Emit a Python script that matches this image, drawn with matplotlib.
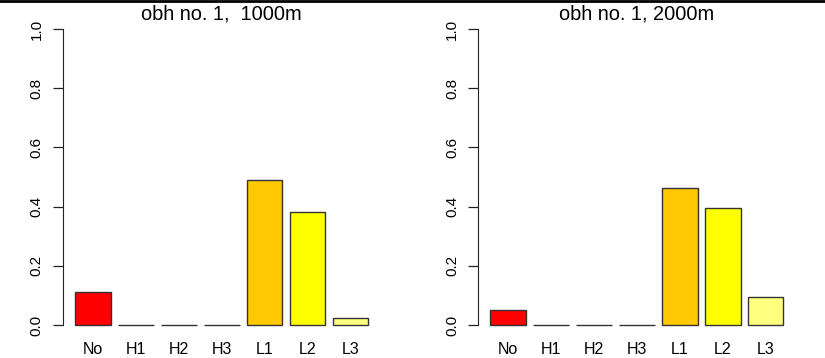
import matplotlib
matplotlib.use("Agg")
import matplotlib.pyplot as plt
import numpy as np

categories = ["No", "H1", "H2", "H3", "L1", "L2", "L3"]
values_1000 = [0.111, 0.0, 0.0, 0.0, 0.491, 0.381, 0.024]
values_2000 = [0.051, 0.0, 0.0, 0.0, 0.462, 0.396, 0.096]
bar_colors = ["#FF0000", "#FF8000", "#FFA000", "#FFB000", "#FFC800", "#FFFF00", "#FFFF80"]
titles = ["obh no. 1,  1000m", "obh no. 1, 2000m"]
yticks = [0.0, 0.2, 0.4, 0.6, 0.8, 1.0]

plt.rcParams['font.family'] = ['Liberation Sans', 'DejaVu Sans']

W, H = 825, 358
fig = plt.figure(figsize=(W / 100, H / 100), dpi=100)

# R barplot geometry: width 1, space 0.2
n = len(categories)
lefts = 0.2 + np.arange(n) * 1.2
centers = lefts + 0.5
xmin, xmax = 0.2, 0.2 + n * 1.2 - 0.2
ext = 0.04 * (xmax - xmin)

panel_left_px = [63.3, 478.5]
panel_width_px = 316.7
top_px, bottom_px = 17.2, 336.8

for i, (vals, title) in enumerate(zip([values_1000, values_2000], titles)):
    ax = fig.add_axes([panel_left_px[i] / W, (H - bottom_px) / H,
                       panel_width_px / W, (bottom_px - top_px) / H])
    ax.bar(centers, vals, width=1.0, color=bar_colors, edgecolor="#333333",
           linewidth=1.0)
    ax.set_xlim(xmin - ext, xmax + ext)
    ax.set_ylim(-0.04, 1.04)
    for s in ["top", "right", "bottom"]:
        ax.spines[s].set_visible(False)
    ax.spines["left"].set_bounds(0, 1)
    ax.spines["left"].set_color("#222222")
    ax.set_yticks(yticks)
    ax.set_yticklabels([f"{t:.1f}" for t in yticks], rotation=90, va="center",
                       fontsize=11)
    ax.tick_params(axis="y", length=7, width=0.9, pad=7, color="#222222")
    ax.set_xticks(centers)
    ax.set_xticklabels(categories, fontsize=11.5)
    ax.tick_params(axis="x", length=0, pad=4)
    cx = (panel_left_px[i] + panel_width_px / 2) / W
    fig.text(cx, (H - 20) / H, title, fontsize=14.4, ha="center", va="baseline")

# top border line
fig.add_artist(plt.Line2D([0, 1], [1 - 1 / H, 1 - 1 / H], color="black",
                          linewidth=2, transform=fig.transFigure))

fig.savefig("out.png", dpi=100)
